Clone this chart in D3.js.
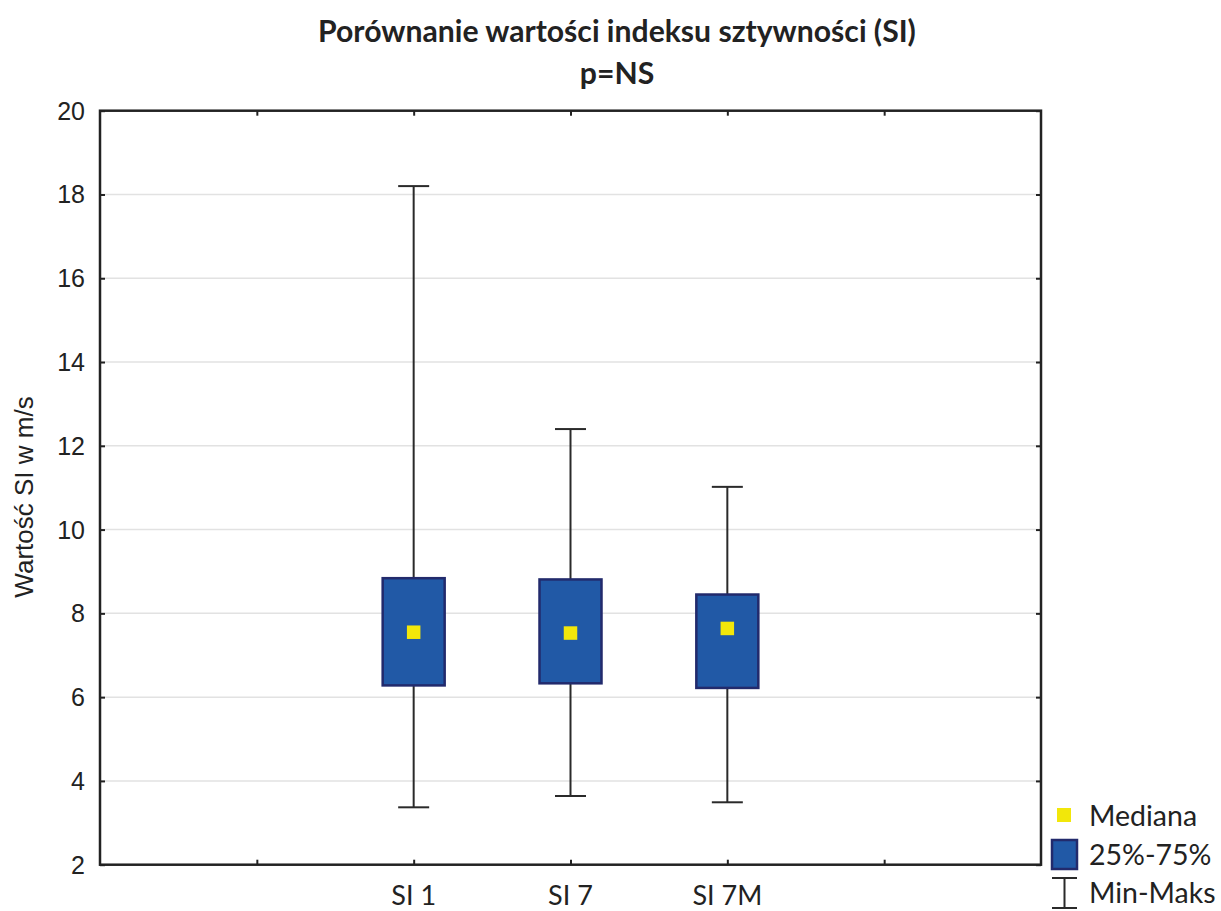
<!DOCTYPE html>
<html>
<head>
<meta charset="utf-8">
<script src="https://cdn.jsdelivr.net/npm/d3@7/dist/d3.min.js"></script>
<style>
  html, body { margin: 0; padding: 0; background: #fff; }
  svg { display: block; }
</style>
</head>
<body>
<svg id="chart" width="1221" height="911"></svg>
<script>
// Stiffness index (SI) summary per measurement
const categories = ["SI 1", "SI 7", "SI 7M"];
const minVals    = [3.37, 3.64, 3.49];
const q1Vals     = [6.28, 6.33, 6.22];
const medianVals = [7.55, 7.53, 7.64];
const q3Vals     = [8.84, 8.81, 8.45];
const maxVals    = [18.2, 12.4, 11.02];

const yTicks = [2, 4, 6, 8, 10, 12, 14, 16, 18, 20];
const titleText = "Porównanie wartości indeksu sztywności (SI)";
const subtitleText = "p=NS";
const yTitle = "Wartość SI w m/s";
const legendLabels = ["Mediana", "25%-75%", "Min-Maks"];

const colors = {
  boxFill: "#2159a6",
  boxStroke: "#222a6c",
  median: "#f2e70a",
  whisker: "#2a2a2a",
  frame: "#222",
  grid: "#e2e2e2"
};

const svg = d3.select("#chart");
const plot = { left: 100, right: 1041, top: 110.7, bottom: 864.7 };

// six equal slots across the frame; the groups sit in slots 2..4
const x = d3.scaleLinear().domain([0, 6]).range([plot.left, plot.right]);
const y = d3.scaleLinear().domain([2, 20]).range([plot.bottom, plot.top]);
const slot = i => i + 2;

const rows = categories.map((c, i) => ({
  cat: c, min: minVals[i], q1: q1Vals[i], med: medianVals[i], q3: q3Vals[i], max: maxVals[i], pos: slot(i)
}));

// horizontal grid
svg.append("g").selectAll("line").data(yTicks.slice(1, -1)).join("line")
  .attr("x1", plot.left).attr("x2", plot.right)
  .attr("y1", d => y(d)).attr("y2", d => y(d))
  .attr("stroke", colors.grid).attr("stroke-width", 1.5);

// inward ticks on all four sides
const tickLen = 5;
const axL = svg.append("g").attr("transform", `translate(${plot.left},0)`)
  .call(d3.axisRight(y).tickValues(yTicks).tickSize(tickLen).tickFormat(""));
const axR = svg.append("g").attr("transform", `translate(${plot.right},0)`)
  .call(d3.axisLeft(y).tickValues(yTicks).tickSize(tickLen).tickFormat(""));
const axB = svg.append("g").attr("transform", `translate(0,${plot.bottom})`)
  .call(d3.axisTop(x).tickValues([1, 2, 3, 4, 5]).tickSize(tickLen).tickFormat(""));
const axT = svg.append("g").attr("transform", `translate(0,${plot.top})`)
  .call(d3.axisBottom(x).tickValues([1, 2, 3, 4, 5]).tickSize(tickLen).tickFormat(""));
[axL, axR, axB, axT].forEach(a => {
  a.select(".domain").remove();
  a.selectAll("line").attr("stroke", colors.frame).attr("stroke-width", 2);
});

// y tick labels
svg.append("g").selectAll("text").data(yTicks).join("text")
  .attr("x", 85).attr("y", d => y(d)).attr("dy", "0.36em")
  .attr("text-anchor", "end")
  .attr("font-family", "'Liberation Sans', Arial, sans-serif")
  .attr("font-size", 25).attr("fill", "#222")
  .text(d => d);

// whiskers
const capW = 31;
const wh = svg.append("g");
rows.forEach(r => {
  const cx = x(r.pos);
  wh.append("line").attr("x1", cx).attr("x2", cx).attr("y1", y(r.max)).attr("y2", y(r.q3))
    .attr("stroke", colors.whisker).attr("stroke-width", 2);
  wh.append("line").attr("x1", cx).attr("x2", cx).attr("y1", y(r.q1)).attr("y2", y(r.min))
    .attr("stroke", colors.whisker).attr("stroke-width", 2);
  [r.max, r.min].forEach(v => {
    wh.append("line").attr("x1", cx - capW / 2).attr("x2", cx + capW / 2)
      .attr("y1", y(v)).attr("y2", y(v))
      .attr("stroke", colors.whisker).attr("stroke-width", 2);
  });
});

// boxes
const boxW = 62;
svg.append("g").selectAll("rect").data(rows).join("rect")
  .attr("x", d => x(d.pos) - boxW / 2)
  .attr("width", boxW)
  .attr("y", d => y(d.q3))
  .attr("height", d => y(d.q1) - y(d.q3))
  .attr("fill", colors.boxFill)
  .attr("stroke", colors.boxStroke).attr("stroke-width", 2.5);

// medians
const medS = 13.5;
svg.append("g").selectAll("rect").data(rows).join("rect")
  .attr("x", d => x(d.pos) - medS / 2)
  .attr("y", d => y(d.med) - medS / 2)
  .attr("width", medS).attr("height", medS)
  .attr("fill", colors.median);

// frame
svg.append("rect")
  .attr("x", plot.left).attr("y", plot.top)
  .attr("width", plot.right - plot.left).attr("height", plot.bottom - plot.top)
  .attr("fill", "none").attr("stroke", colors.frame).attr("stroke-width", 2.5);

// category labels
const humanist = "Lato, 'Open Sans', sans-serif";
svg.append("g").selectAll("text").data(rows).join("text")
  .attr("x", d => x(d.pos)).attr("y", 905)
  .attr("text-anchor", "middle")
  .attr("font-family", humanist).attr("font-size", 27).attr("fill", "#222")
  .text(d => d.cat);

// titles
function fitWidth(sel, target) {
  const size = +sel.attr("font-size");
  const w = sel.node().getComputedTextLength();
  sel.attr("font-size", size * target / w);
}
const t1 = svg.append("text")
  .attr("x", 617).attr("y", 42).attr("text-anchor", "middle")
  .attr("font-family", humanist).attr("font-weight", 700)
  .attr("font-size", 28).attr("fill", "#222").text(titleText);
fitWidth(t1, 598);
svg.append("text")
  .attr("x", 617).attr("y", 84).attr("text-anchor", "middle")
  .attr("font-family", humanist).attr("font-weight", 700)
  .attr("font-size", t1.attr("font-size")).attr("fill", "#222").text(subtitleText);

// y axis title
svg.append("text")
  .attr("transform", "translate(33,497) rotate(-90)")
  .attr("text-anchor", "middle")
  .attr("font-family", "'Liberation Sans', Arial, sans-serif")
  .attr("font-size", 26).attr("fill", "#222")
  .text(yTitle);

// legend
const lg = svg.append("g");
const lgX = 1089;
const lgFont = 28.5;
lg.append("rect").attr("x", 1057).attr("y", 808).attr("width", 14).attr("height", 14)
  .attr("fill", colors.median);
lg.append("rect").attr("x", 1052).attr("y", 840).attr("width", 25).attr("height", 29)
  .attr("fill", colors.boxFill).attr("stroke", colors.boxStroke).attr("stroke-width", 2.5);
lg.append("path")
  .attr("d", "M1052,878H1077M1064.5,878V908M1052,908H1077")
  .attr("stroke", colors.whisker).attr("stroke-width", 2).attr("fill", "none");
[826, 865, 903].forEach((by, i) => {
  lg.append("text").attr("x", lgX).attr("y", by)
    .attr("font-family", humanist).attr("font-size", lgFont).attr("fill", "#222")
    .text(legendLabels[i]);
});
</script>
</body>
</html>
